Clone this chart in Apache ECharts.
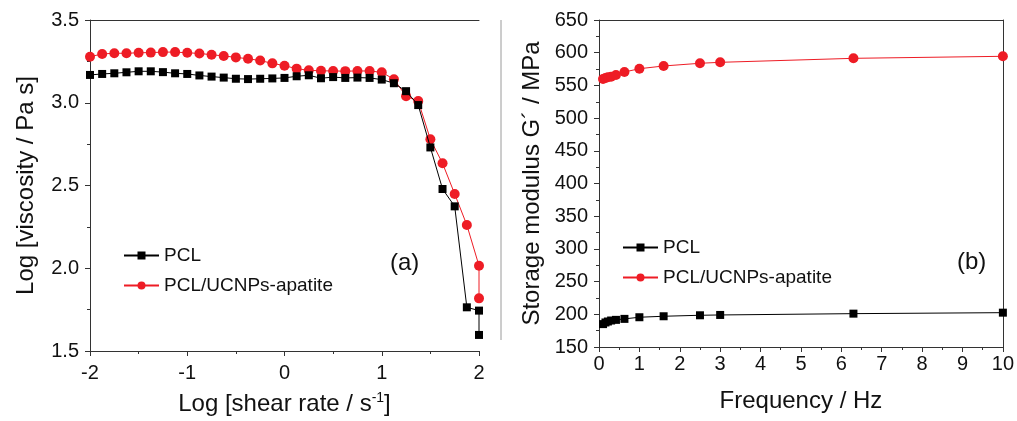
<!DOCTYPE html>
<html>
<head>
<meta charset="utf-8">
<script src="https://cdn.jsdelivr.net/npm/echarts@6/dist/echarts.min.js"></script>
<style>
html,body{margin:0;padding:0;background:#fff;}
#c{width:1017px;height:421px;}
</style>
</head>
<body>
<div id="c"></div>
<script>
// ---- Panel (a) data: Log shear rate vs Log viscosity ----
const shearRate = [-2, -1.875, -1.75, -1.625, -1.5, -1.375, -1.25, -1.125, -1, -0.875, -0.75, -0.625, -0.5, -0.375, -0.25, -0.125,
  0, 0.125, 0.25, 0.375, 0.5, 0.625, 0.75, 0.875, 1, 1.125, 1.25, 1.375, 1.5, 1.625, 1.75, 1.875, 2, 2];
const pclVisc = [3.168, 3.174, 3.178, 3.184, 3.19, 3.19, 3.185, 3.178, 3.174, 3.165, 3.158, 3.152, 3.145, 3.143, 3.145, 3.147,
  3.15, 3.16, 3.166, 3.148, 3.155, 3.15, 3.152, 3.15, 3.14, 3.118, 3.07, 2.986, 2.73, 2.479, 2.374, 1.764, 1.744, 1.597];
const compVisc = [3.278, 3.295, 3.299, 3.299, 3.302, 3.303, 3.306, 3.306, 3.302, 3.298, 3.29, 3.283, 3.274, 3.266, 3.255, 3.238,
  3.224, 3.206, 3.196, 3.193, 3.192, 3.191, 3.192, 3.192, 3.184, 3.142, 3.04, 3.01, 2.779, 2.634, 2.449, 2.261, 2.015, 1.818];

// ---- Panel (b) data: Frequency vs Storage modulus ----
const frequency = [0.1, 0.16, 0.22, 0.3, 0.42, 0.63, 1.0, 1.6, 2.5, 3.0, 6.3, 10];
const pclG = [185, 187.5, 189, 190.5, 191.5, 193, 195.5, 197, 198.5, 199, 201, 202.5];
const compG = [559.8, 561.3, 562.4, 563.3, 565.9, 570.5, 575.5, 579.7, 583.8, 585.3, 591.4, 594.5];

const seriesNames = ['PCL', 'PCL/UCNPs-apatite'];
const panelLabels = ['(a)', '(b)'];
const xNameA = 'Log [shear rate / s';
const yNameA = 'Log [viscosity / Pa s]';
const xNameB = 'Frequency / Hz';
const yNameB = 'Storage modulus G\u00b4 / MPa';

const FONT = '"Liberation Sans", Arial, Helvetica, sans-serif';
const RED = '#ee1c25';
const AXC = '#333';

function zip(xs, ys){ return xs.map((x,i)=>[x, ys[i]]); }

function axisCommon(){
  return {
    axisLine:{show:true, onZero:false, lineStyle:{color:AXC, width:1}},
    axisTick:{show:true, inside:false, length:5, lineStyle:{color:AXC}},
    minorTick:{show:true, splitNumber:2, length:3, lineStyle:{color:AXC}},
    splitLine:{show:false},
    minorSplitLine:{show:false},
    axisLabel:{color:'#111', fontSize:20, fontFamily:FONT},
    nameTextStyle:{color:'#111', fontSize:24, fontFamily:FONT}
  };
}
function boxAxis(gridIndex, position){
  return {type:'value', gridIndex, position, show:true,
    axisLine:{show:true, onZero:false, lineStyle:{color:AXC}}, axisTick:{show:false}, axisLabel:{show:false}, splitLine:{show:false}};
}

const chart = echarts.init(document.getElementById('c'), null, {renderer:'canvas'});
const option = {
  backgroundColor:'#fff',
  animation:false,
  grid:[
    {left:90, top:20, right:538, bottom:70, containLabel:false},
    {left:599, top:20, right:13, bottom:74, containLabel:false}
  ],
  xAxis:[
    Object.assign(axisCommon(), {type:'value', gridIndex:0, min:-2, max:2, interval:1,
      name:'{n|' + xNameA + '}{s|-1}{n|]}', nameLocation:'middle', nameGap:40,
      nameTextStyle:{rich:{n:{fontSize:24, fontFamily:FONT, color:'#111'}, s:{fontSize:14, fontFamily:FONT, color:'#111', verticalAlign:'top', padding:[0,0,12,0]}}},
      axisLabel:{color:'#111', fontSize:20, fontFamily:FONT, margin:12, formatter:v=>String(v)}}),
    Object.assign(axisCommon(), {type:'value', gridIndex:1, min:0, max:10, interval:1,
      name:xNameB, nameLocation:'middle', nameGap:42,
      axisLabel:{color:'#111', fontSize:20, fontFamily:FONT, margin:7}}),
    Object.assign(boxAxis(0, 'top'), {min:-2, max:2}),
    Object.assign(boxAxis(1, 'top'), {min:0, max:10})
  ],
  yAxis:[
    Object.assign(axisCommon(), {type:'value', gridIndex:0, min:1.5, max:3.5, interval:0.5,
      name:yNameA, nameLocation:'middle', nameGap:52,
      axisLabel:{color:'#111', fontSize:20, fontFamily:FONT, margin:11, formatter:v=>v.toFixed(1)}}),
    Object.assign(axisCommon(), {type:'value', gridIndex:1, min:150, max:650, interval:50,
      name:yNameB, nameLocation:'middle', nameGap:55,
      axisLabel:{color:'#111', fontSize:20, fontFamily:FONT, margin:11}}),
    Object.assign(boxAxis(1, 'right'), {min:150, max:650})
  ],
  legend:[
    {left:118, top:241, orient:'vertical', itemWidth:35, itemHeight:10, itemGap:11,
     textStyle:{fontSize:19, fontFamily:FONT, color:'#111'}, data:seriesNames},
    {left:617, top:233, orient:'vertical', itemWidth:35, itemHeight:10, itemGap:11,
     textStyle:{fontSize:19, fontFamily:FONT, color:'#111'}, data:seriesNames}
  ],
  graphic:[
    {type:'line', shape:{x1:501, y1:20, x2:501, y2:340}, style:{stroke:'#9a9a9a', lineWidth:1}},
    {type:'text', left:390, top:251, style:{text:panelLabels[0], fontSize:24, fontFamily:FONT, fill:'#111'}},
    {type:'text', left:957, top:250, style:{text:panelLabels[1], fontSize:24, fontFamily:FONT, fill:'#111'}}
  ],
  series:[
    {name:seriesNames[0], type:'line', xAxisIndex:0, yAxisIndex:0, data:zip(shearRate, pclVisc),
     symbol:'rect', symbolSize:8, lineStyle:{color:'#000', width:1}, itemStyle:{color:'#000'}, z:3},
    {name:seriesNames[1], type:'line', xAxisIndex:0, yAxisIndex:0, data:zip(shearRate, compVisc),
     symbol:'circle', symbolSize:10, lineStyle:{color:RED, width:1}, itemStyle:{color:RED}, z:2},
    {name:seriesNames[0], type:'line', xAxisIndex:1, yAxisIndex:1, data:zip(frequency, pclG),
     symbol:'rect', symbolSize:8, lineStyle:{color:'#000', width:1}, itemStyle:{color:'#000'}},
    {name:seriesNames[1], type:'line', xAxisIndex:1, yAxisIndex:1, data:zip(frequency, compG),
     symbol:'circle', symbolSize:10, lineStyle:{color:RED, width:1}, itemStyle:{color:RED}}
  ]
};
chart.setOption(option);
</script>
</body>
</html>
